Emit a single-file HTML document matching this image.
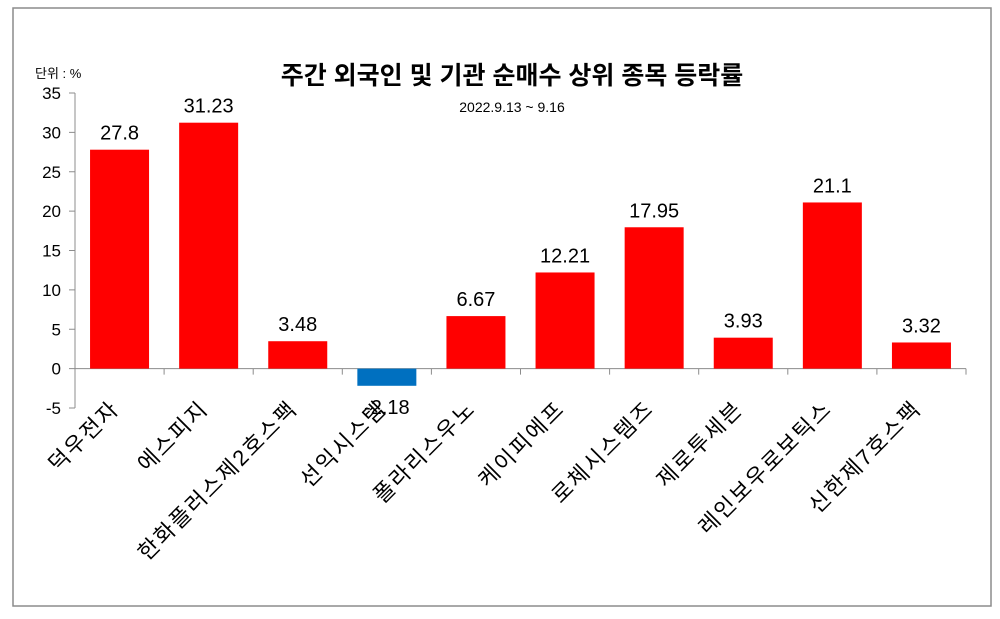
<!DOCTYPE html>
<html><head><meta charset="utf-8"><style>
body{margin:0;background:#fff;}
svg text{font-family:"Liberation Sans","Noto Sans CJK KR","NanumGothic",sans-serif;}
</style></head><body>
<svg width="1000" height="614" xmlns="http://www.w3.org/2000/svg" id="chart">
<rect x="13" y="8" width="978" height="598" fill="#fff" stroke="#8c8c8c" stroke-width="1.5"/>
<text x="512" y="84" text-anchor="middle" font-size="25" font-weight="bold" fill="#000">주간 외국인 및 기관 순매수 상위 종목 등락률</text>
<text x="512" y="112" text-anchor="middle" font-size="14" fill="#000">2022.9.13 ~ 9.16</text>
<text x="35" y="78" font-size="13" fill="#000">단위 : %</text>
<g id="plot"></g>
</svg>
<script>
const categories=["덕우전자","에스피지","한화플러스제2호스팩","선익시스템","폴라리스우노","케이피에프","로체시스템즈","제로투세븐","레인보우로보틱스","신한제7호스팩"];
const values=[27.8,31.23,3.48,-2.18,6.67,12.21,17.95,3.93,21.1,3.32];
const valueLabels=["27.8","31.23","3.48","-2.18","6.67","12.21","17.95","3.93","21.1","3.32"];
const yTicks=[-5,0,5,10,15,20,25,30,35];
const NS="http://www.w3.org/2000/svg";
const g=document.getElementById('plot');
const x0=75,x1=966,yTop=93,yBot=408,vMin=-5,vMax=35;
const y=v=>yTop+(vMax-v)*(yBot-yTop)/(vMax-vMin);
const bw=(x1-x0)/categories.length;
const xc=i=>x0+bw*(i+0.5);
function el(t,a){const e=document.createElementNS(NS,t);for(const k in a)e.setAttribute(k,a[k]);g.appendChild(e);return e;}
let ax=el('line',{x1:x0,y1:yTop,x2:x0,y2:yBot,stroke:'#8c8c8c','stroke-width':1});


yTicks.forEach(v=>{
  const t=el('line',{x1:x0-6,y1:y(v),x2:x0,y2:y(v),stroke:'#8c8c8c'});
  
  
  const l=el('text',{x:x0-14,y:y(v)+6,'text-anchor':'end','font-size':17,fill:'#000'});
  l.textContent=v;
  
  
});
let xa=el('line',{x1:x0,y1:y(0),x2:x1,y2:y(0),stroke:'#8c8c8c'});


for(let i=1;i<=categories.length;i++){
  const t=el('line',{x1:x0+bw*i,y1:y(0),x2:x0+bw*i,y2:y(0)+6,stroke:'#8c8c8c'});
  
  
}
categories.forEach((c,i)=>{
  const v=values[i];
  const w=59;
  const r=el('rect',{x:xc(i)-w/2,y:Math.min(y(v),y(0)),width:w,height:Math.abs(y(v)-y(0)),fill:v>=0?'#ff0000':'#0070c0'});
  
  
  const ly=v>=0?y(v)-10:y(v)+28;
  const vl=el('text',{x:xc(i),y:ly,'text-anchor':'middle','font-size':20,fill:'#000'});
  vl.textContent=valueLabels[i];
  
  
  const ax2=xc(i)+1, ay2=410;
  const cl=el('text',{x:ax2,y:ay2,'text-anchor':'end','font-size':22,'letter-spacing':2,fill:'#000',transform:`rotate(-45 ${ax2} ${ay2})`});
  cl.textContent=c;
  
  
});
</script>
</body></html>
